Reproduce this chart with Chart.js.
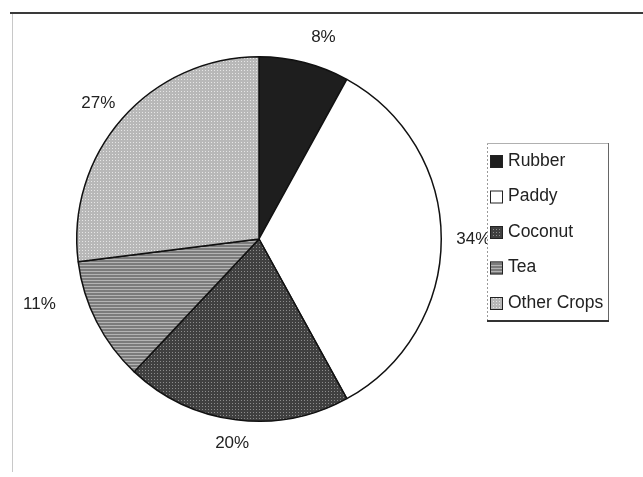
<!DOCTYPE html>
<html>
<head>
<meta charset="utf-8">
<script src="https://cdn.jsdelivr.net/npm/chart.js@4.4.1/dist/chart.umd.min.js"></script>
<style>
  html, body { margin: 0; padding: 0; background: #fff; }
  #wrap { width: 643px; height: 477px; position: relative; }
</style>
</head>
<body>
<div id="wrap"><canvas id="cropPie" width="643" height="477"></canvas></div>
<script>
// crop shares (%)
const crops = ['Rubber', 'Paddy', 'Coconut', 'Tea', 'Other Crops'];
const shares = [8, 34, 20, 11, 27];

// small dotted fills, like the old printed greys
function dots(base, dot, size, rowFill) {
  const c = document.createElement('canvas');
  c.width = size; c.height = size;
  const g = c.getContext('2d');
  g.fillStyle = base;
  g.fillRect(0, 0, size, size);
  g.fillStyle = dot;
  if (rowFill) g.fillRect(0, 1, size, 1);
  else g.fillRect(1, 1, 1, 1);
  return g.createPattern(c, 'repeat');
}

const fills = [
  '#1e1e1e',
  '#ffffff',
  dots('#404040', '#8c8c8c', 3),
  dots('#7c7c7c', '#b4b4b4', 3, true),
  dots('#b8b8b8', '#e6e6e6', 3)
];

// hand-placed tweaks for a couple of labels: [angle shift in deg, extra distance]
const labelShift = [[3, 6], [0, 0], [0, 0], [10, 16], [0, 0]];

// percent labels just outside each slice
const outsideLabels = {
  id: 'outsideLabels',
  afterDatasetsDraw(chart) {
    const ctx = chart.ctx;
    const meta = chart.getDatasetMeta(0);
    ctx.save();
    ctx.font = '17px "Liberation Sans", Arial, sans-serif';
    ctx.fillStyle = '#222';
    ctx.textAlign = 'center';
    ctx.textBaseline = 'middle';
    meta.data.forEach((arc, i) => {
      const p = arc.getProps(['x', 'y', 'startAngle', 'endAngle', 'outerRadius'], true);
      const mid = (p.startAngle + p.endAngle) / 2 + labelShift[i][0] * Math.PI / 180;
      const txt = shares[i] + '%';
      const w = ctx.measureText(txt).width;
      const h = 17;
      const cx = Math.cos(mid), cy = Math.sin(mid);
      const r = p.outerRadius + 15 + labelShift[i][1];
      const x = p.x + r * cx + (w / 2) * cx;
      const y = p.y + r * cy + (h / 2) * cy;
      ctx.fillText(txt, x, y);
    });
    ctx.restore();
  }
};

// boxed legend on the right and the frame lines
const boxLegend = {
  id: 'boxLegend',
  afterDraw(chart) {
    const ctx = chart.ctx;
    const ds = chart.data.datasets[0];
    const bx = 487, by = 143, bw = 122, bh = 178;
    ctx.save();

    // frame
    ctx.strokeStyle = '#3a3a3a';
    ctx.lineWidth = 2;
    ctx.beginPath();
    ctx.moveTo(10, 13); ctx.lineTo(643, 13);
    ctx.stroke();
    ctx.strokeStyle = '#c8c8c8';
    ctx.lineWidth = 1;
    ctx.beginPath();
    ctx.moveTo(12.5, 14); ctx.lineTo(12.5, 472);
    ctx.stroke();

    // legend box
    ctx.fillStyle = '#fff';
    ctx.fillRect(bx, by, bw, bh);
    ctx.strokeStyle = '#9a9a9a';
    ctx.setLineDash([2, 2]);
    ctx.beginPath();
    ctx.moveTo(bx + 0.5, by); ctx.lineTo(bx + 0.5, by + bh);
    ctx.stroke();
    ctx.setLineDash([]);
    ctx.strokeStyle = '#b0b0b0';
    ctx.beginPath();
    ctx.moveTo(bx, by + 0.5); ctx.lineTo(bx + bw, by + 0.5);
    ctx.stroke();
    ctx.strokeStyle = '#666';
    ctx.beginPath();
    ctx.moveTo(bx + bw - 0.5, by); ctx.lineTo(bx + bw - 0.5, by + bh);
    ctx.stroke();
    ctx.strokeStyle = '#333';
    ctx.lineWidth = 2;
    ctx.beginPath();
    ctx.moveTo(bx, by + bh); ctx.lineTo(bx + bw, by + bh);
    ctx.stroke();

    ctx.font = '17.5px "Liberation Sans", Arial, sans-serif';
    ctx.textBaseline = 'middle';
    ctx.textAlign = 'left';
    chart.data.labels.forEach((lab, i) => {
      const y = by + 18 + i * 35.5;
      ctx.fillStyle = ds.backgroundColor[i];
      ctx.fillRect(bx + 3, y - 6, 13, 13);
      ctx.strokeStyle = '#222';
      ctx.lineWidth = 1;
      ctx.strokeRect(bx + 3.5, y - 5.5, 12, 12);
      ctx.fillStyle = '#222';
      ctx.fillText(lab, bx + 21, y);
    });
    ctx.restore();
  }
};

new Chart(document.getElementById('cropPie'), {
  type: 'pie',
  data: {
    labels: crops,
    datasets: [{
      data: shares,
      backgroundColor: fills,
      borderColor: '#111',
      borderWidth: 1.5
    }]
  },
  options: {
    responsive: false,
    animation: false,
    layout: { padding: { left: 76, right: 201, top: 56, bottom: 55 } },
    plugins: {
      legend: { display: false },
      tooltip: { enabled: false }
    }
  },
  plugins: [outsideLabels, boxLegend]
});
</script>
</body>
</html>
